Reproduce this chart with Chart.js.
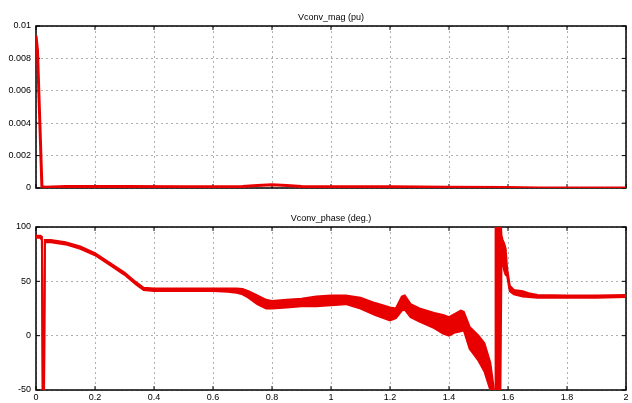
<!DOCTYPE html>
<html>
<head>
<meta charset="utf-8">
<script src="https://cdn.jsdelivr.net/npm/chart.js@4/dist/chart.umd.min.js"></script>
<style>
  body { margin: 0; background: #fff; }
  .box { position: absolute; left: 0; width: 632px; }
</style>
</head>
<body>
<div class="box" style="top:0;height:200px"><canvas id="mag" width="632" height="200"></canvas></div>
<div class="box" style="top:200px;height:203px"><canvas id="phase" width="632" height="203"></canvas></div>
<script>
// time axis ticks
const xTicks = [0, 0.2, 0.4, 0.6, 0.8, 1, 1.2, 1.4, 1.6, 1.8, 2];
const xLabels = ['0', '0.2', '0.4', '0.6', '0.8', '1', '1.2', '1.4', '1.6', '1.8', '2'];

// Vconv_mag (pu)
const magTicks = [0, 0.002, 0.004, 0.006, 0.008, 0.01];
const magLabels = ['0', '0.002', '0.004', '0.006', '0.008', '0.01'];
const magTime = [0, 0.005, 0.02, 0.03, 0.1, 0.3, 0.5, 0.7, 0.75, 0.8, 0.85, 0.9, 1.0, 1.2, 1.4, 1.6, 1.7, 2];
const magVal = [0.0094, 0.0085, 0.0001, 0.00005, 0.0001, 0.0001, 0.00008, 0.0001, 0.00015, 0.0002, 0.00016, 0.0001, 0.00008, 0.00007, 0.00005, 0.00003, 0, 0];

// Vconv_phase (deg.) - upper / lower envelope of the oscillating trace
const phTicks = [-50, 0, 50, 100];
const phLabels = ['-50', '0', '50', '100'];
const phTime = [0, 0.015, 0.02, 0.023, 0.027, 0.03, 0.05, 0.1, 0.15, 0.2, 0.25, 0.3, 0.34, 0.365, 0.4, 0.5,
  0.6, 0.65, 0.68, 0.7, 0.72, 0.75, 0.78, 0.8, 0.85, 0.9, 0.95, 1.0, 1.05, 1.1, 1.15, 1.2, 1.22, 1.24, 1.25,
  1.27, 1.3, 1.35, 1.38, 1.4, 1.42, 1.44, 1.45, 1.47, 1.5, 1.52, 1.54, 1.55, 1.553, 1.557, 1.558, 1.574,
  1.578, 1.582, 1.587, 1.592, 1.597, 1.606, 1.62, 1.65, 1.67, 1.7, 1.8, 1.9, 2.0];
const phUpper = [92, 92, 91, -60, -60, 88, 88, 86, 82, 76, 67, 58, 49, 44, 43.5, 43.5,
  43.5, 43.5, 43.5, 43, 41, 37, 33, 32, 33, 34, 36, 37, 37, 35, 30, 26, 25, 36, 37,
  29, 25, 21, 19, 17, 20, 23, 22, 8, 0, -7, -25, -45, -60, -60, 110, 110,
  92, 88, 85, 80, 62, 46, 42, 41, 39, 37.5, 37, 37, 37.5];
const phLower = [90, 90, 88, -60, -60, 86, 86, 84, 80, 74, 65, 56, 47, 42, 41, 41,
  41, 40.5, 39.5, 38, 35, 29, 25, 25, 26, 27, 27, 28, 29, 25, 19, 14, 16, 23, 24,
  17, 13, 7, 2, 0, 3, 4, 5, -12, -23, -33, -50, -60, -60, -60, -60, -60,
  72, 68, 60, 56, 55, 41, 38, 36, 35.5, 35, 35, 35, 35.5];

const red = 'rgb(232,0,0)';
const font = { family: 'Liberation Sans', size: 9, weight: 'normal' };

// black frame plus inward tick marks on all four sides
const frame = {
  id: 'frame',
  beforeDatasetsDraw(chart) {
    const { ctx, chartArea: a, scales } = chart;
    ctx.save();
    ctx.strokeStyle = '#000';
    ctx.lineWidth = 1;
    ctx.beginPath();
    scales.x.ticks.forEach(t => {
      const p = scales.x.getPixelForValue(t.value);
      ctx.moveTo(p, a.top); ctx.lineTo(p, a.top + 4);
      ctx.moveTo(p, a.bottom); ctx.lineTo(p, a.bottom - 4);
    });
    scales.y.ticks.forEach(t => {
      const p = scales.y.getPixelForValue(t.value);
      ctx.moveTo(a.left, p); ctx.lineTo(a.left + 4, p);
      ctx.moveTo(a.right, p); ctx.lineTo(a.right - 4, p);
    });
    ctx.stroke();
    ctx.lineWidth = 1.5;
    ctx.strokeRect(a.left, a.top, a.right - a.left, a.bottom - a.top);
    ctx.restore();
  }
};

function makeOptions(title, titlePad, yMin, yMax, yTicks, yLabels, showX, xHeight) {
  return {
    responsive: false,
    animation: false,
    layout: { padding: { left: 0, right: 6, top: 0, bottom: 0 } },
    plugins: {
      legend: { display: false },
      tooltip: { enabled: false },
      title: { display: true, text: title, color: '#000', font: font, padding: titlePad, fullSize: false }
    },
    scales: {
      x: {
        type: 'linear', min: 0, max: 2,
        afterBuildTicks: s => { s.ticks = xTicks.map(v => ({ value: v })); },
        afterFit: s => { s.height = xHeight; },
        ticks: { display: showX, color: '#000', font: font, padding: 2, maxRotation: 0,
                 callback: (v, i) => xLabels[i] },
        grid: { color: '#b0b0b0', drawTicks: false },
        border: { display: false, dash: [2, 3] }
      },
      y: {
        min: yMin, max: yMax,
        afterBuildTicks: s => { s.ticks = yTicks.map(v => ({ value: v })); },
        afterFit: s => { s.width = 36; },
        ticks: { color: '#000', font: font, padding: 5, callback: (v, i) => yLabels[i] },
        grid: { color: '#b0b0b0', drawTicks: false },
        border: { display: false, dash: [2, 3] }
      }
    }
  };
}

new Chart(document.getElementById('mag'), {
  type: 'line',
  data: {
    datasets: [{
      data: magTime.map((t, i) => ({ x: t, y: magVal[i] })),
      borderColor: red, borderWidth: 3, pointRadius: 0, tension: 0, fill: false
    }]
  },
  options: makeOptions('Vconv_mag (pu)', { top: 12.6, bottom: 2.6 }, 0, 0.01, magTicks, magLabels, false, 12),
  plugins: [frame]
});

new Chart(document.getElementById('phase'), {
  type: 'line',
  data: {
    datasets: [{
      data: phTime.map((t, i) => ({ x: t, y: phUpper[i] })),
      borderColor: red, borderWidth: 2, pointRadius: 0, tension: 0, fill: false
    }, {
      data: phTime.map((t, i) => ({ x: t, y: phLower[i] })),
      borderColor: red, borderWidth: 2, pointRadius: 0, tension: 0,
      fill: '-1', backgroundColor: red
    }]
  },
  options: makeOptions('Vconv_phase (deg.)', { top: 13.6, bottom: 2.6 }, -50, 100, phTicks, phLabels, true, 13),
  plugins: [frame]
});
</script>
</body>
</html>
